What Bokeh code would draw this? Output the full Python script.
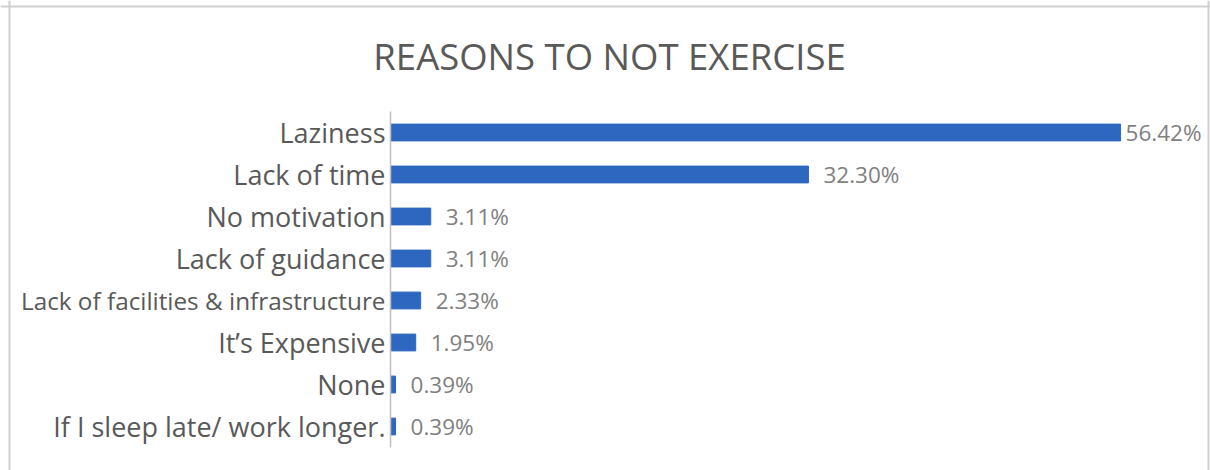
from bokeh.plotting import figure
from bokeh.models import Range1d, ColumnDataSource, Span
from bokeh.core.properties import value
from bokeh.embed import file_html
from bokeh.resources import INLINE

# ---- data ----
categories = [
    "Laziness",
    "Lack of time",
    "No motivation",
    "Lack of guidance",
    "Lack of facilities & infrastructure",
    "It\u2019s Expensive",
    "None",
    "If I sleep late/ work longer.",
]
percentages = [56.42, 32.30, 3.11, 3.11, 2.33, 1.95, 0.39, 0.39]
title_text = "REASONS TO NOT EXERCISE"

# ---- layout constants (pixels) ----
W, H = 1210, 470
FRAME_L, FRAME_T, FRAME_R, FRAME_B = 0, 0, 1210, 470
ZERO_PX = 390          # pixel x of value 0
PX_PER_UNIT = 12.94    # pixels per percentage point
ROW0_PX = 132          # pixel y of first category centre
ROW_STEP = 42          # pixels between categories

def px2x(px):
    return (px - ZERO_PX) / PX_PER_UNIT

def px2y(py):
    return (py - ROW0_PX) / ROW_STEP

x_range = Range1d(px2x(FRAME_L), px2x(FRAME_R))
y_range = Range1d(px2y(FRAME_B), px2y(FRAME_T))

p = figure(width=W, height=H, x_range=x_range, y_range=y_range,
           x_axis_type=None, y_axis_type=None,
           output_backend="svg", toolbar_location=None,
           min_border_left=0, min_border_right=0,
           min_border_top=0, min_border_bottom=0)
p.grid.visible = False
p.outline_line_color = None
p.background_fill_color = "white"
p.border_fill_color = "white"

# chart-area border (left, top, right; bottom edge lies outside the picture)
BORDER = "#d0d0d0"
p.add_layout(Span(location=px2x(9), dimension="height", line_color=BORDER, line_width=2))
p.add_layout(Span(location=px2y(6), dimension="width", line_color=BORDER, line_width=2))
p.add_layout(Span(location=px2x(1208), dimension="height", line_color=BORDER, line_width=2))

idx = list(range(len(categories)))
src = ColumnDataSource(dict(y=idx, cat=categories, val=percentages))

BAR = "#2e67c0"
TXT = "#595959"
VAL_TXT = "#7f7f7f"
FONT = value("Open Sans")

p.hbar(y="y", left=0, right="val", height=0.4, source=src,
       fill_color=BAR, line_color=BAR)

# vertical category axis line
p.segment(x0=[0], y0=[px2y(111)], x1=[0], y1=[px2y(447)],
          line_color="#bfbfbf", line_width=1.5)

# category labels (very long labels shrink like Excel's auto-fit)
long_idx = [i for i, c in enumerate(categories) if len(c) > 32]
short_idx = [i for i in idx if i not in long_idx]
for rows, size in ((short_idx, "27px"), (long_idx, "24.3px")):
    p.text(x=[0] * len(rows), y=[idx[i] for i in rows],
           text=[categories[i] for i in rows],
           x_offset=-5, text_align="right", text_baseline="middle",
           text_font=FONT, text_font_size=size, text_color=TXT)

# value labels
vmax = max(percentages)
offsets = [5 if v == vmax else 15 for v in percentages]
p.text(x=percentages, y=idx, text=[f"{v:.2f}%" for v in percentages],
       x_offset=offsets, text_align="left", text_baseline="middle",
       text_font=FONT, text_font_size="22.5px", text_color=VAL_TXT)

# title
p.text(x=[px2x(609)], y=[px2y(55)], text=[title_text],
       text_align="center", text_baseline="middle",
       text_font=FONT, text_font_size="36.5px", text_color=TXT)

open("out.html", "w").write(file_html(p, INLINE))
